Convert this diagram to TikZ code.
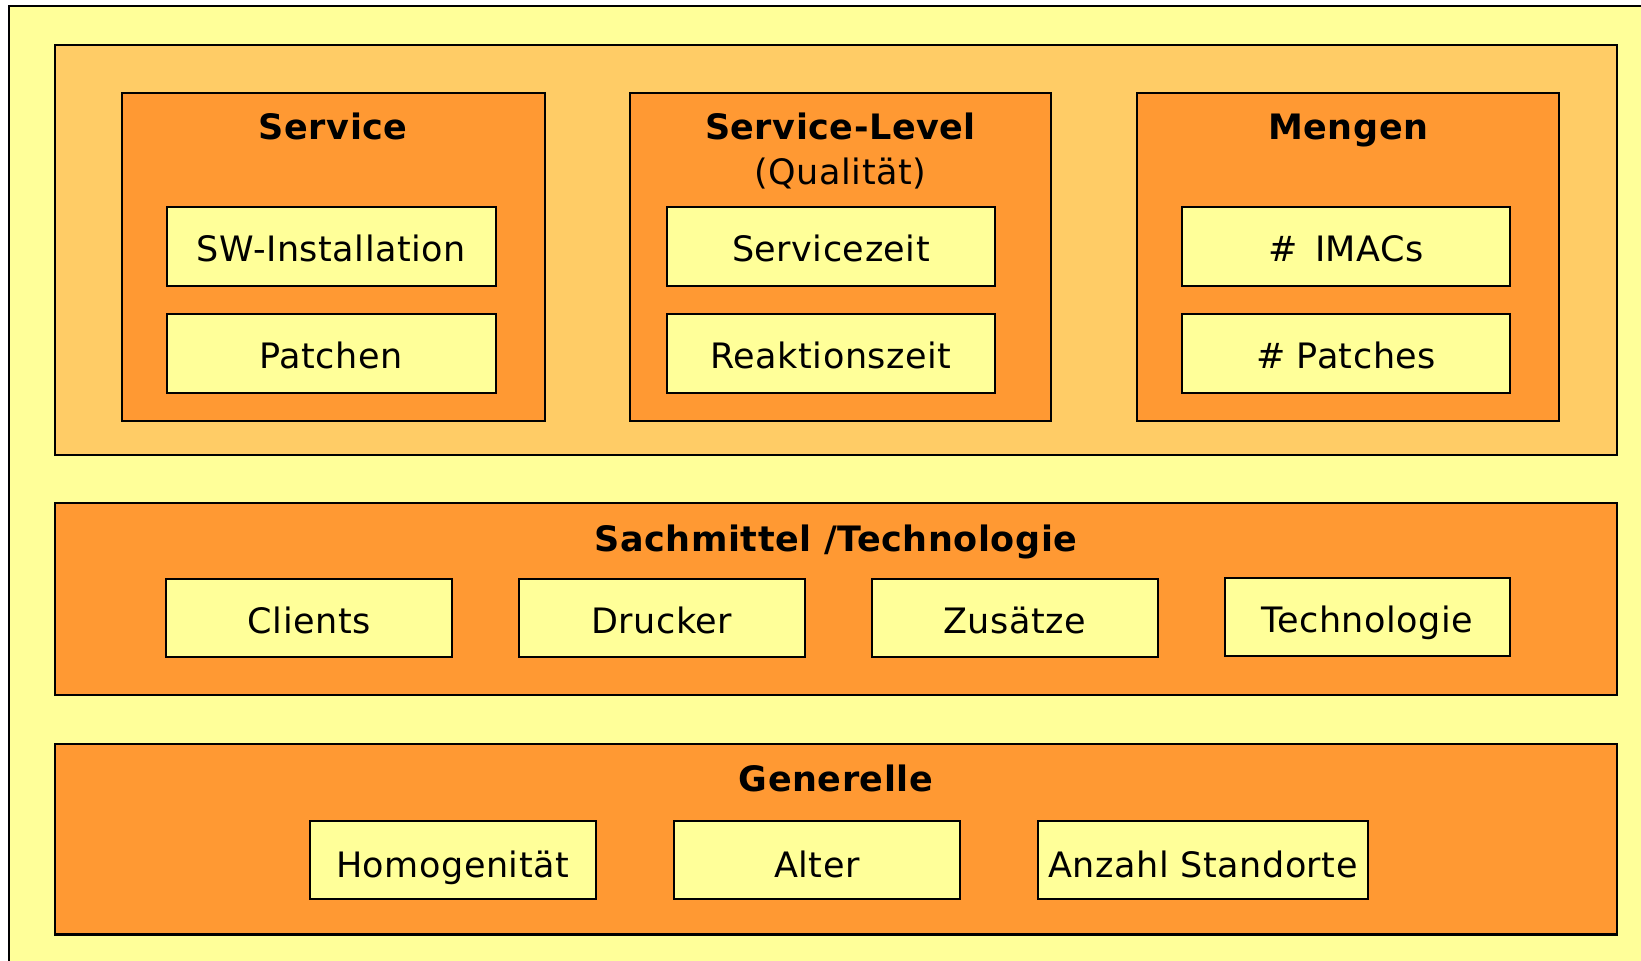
\documentclass[tikz,border=0pt]{standalone}
\usepackage{fontspec}
\setmainfont{DejaVu Sans}[LetterSpace=1.5]
\usetikzlibrary{fit}
\definecolor{lightyel}{HTML}{FFFF99}
\definecolor{lightora}{HTML}{FFCC66}
\definecolor{ora}{HTML}{FF9933}
\tikzset{
  panel/.style={draw=black, line width=1pt, inner sep=0pt, outer sep=0pt},
  itembox/.style={draw=black, line width=1pt, fill=lightyel, inner sep=0pt, outer sep=0pt},
  itemtext/.style={anchor=base, inner sep=0pt, yshift=-7.6pt, font=\fontsize{17.5pt}{21pt}\selectfont},
  ttl/.style={anchor=base, inner sep=0pt, font=\fontsize{17.5pt}{21pt}\selectfont\bfseries},
  sub/.style={anchor=base, inner sep=0pt, font=\fontsize{17.5pt}{21pt}\selectfont}
}
\begin{document}
\begin{tikzpicture}[x=0.5pt,y=-0.5pt]
\useasboundingbox (0,0) rectangle (1641,960);
\clip (0,0) rectangle (1641,960);
\fill[white] (0,0) rectangle (1641,960);
% outer frame
\node[panel, fill=lightyel, line width=1.2pt, fit={(9,6) (1660,980)}] (outer) {};
% top panel
\node[panel, fill=lightora, fit={(55,45) (1617,455)}] (top) {};
\node[panel, fill=ora, fit={(122,92.7) (544.7,421.3)}] (service) {};
\node[panel, fill=ora, fit={(630,92.7) (1051,421.3)}] (level) {};
\node[panel, fill=ora, fit={(1137.3,92.7) (1559.3,421.3)}] (mengen) {};
\node[ttl] (serviceT) at (333.3,139.5) {Service};
\node[ttl] (levelT) at (840.5,139.5) {Service-Level};
\node[sub] (levelQ) at (840.5,184.5) {(Qualität)};
\node[ttl] (mengenT) at (1348.3,139.5) {Mengen};
\node[itembox, fit={(166.7,206.7) (495.7,285.7)}] (sw) {};
\node[itembox, fit={(166.7,314) (495.7,392.7)}] (patchen) {};
\node[itembox, fit={(666.7,206.7) (995.3,285.7)}] (szeit) {};
\node[itembox, fit={(666.7,314) (995.3,392.7)}] (rzeit) {};
\node[itembox, fit={(1181.7,206.7) (1510.3,285.7)}] (imacs) {};
\node[itembox, fit={(1181.7,314) (1510.3,392.7)}] (patches) {};
\node[itemtext] (swT) at (sw.center) {SW-Installation};
\node[itemtext] (patchenT) at (patchen.center) {Patchen};
\node[itemtext] (szeitT) at (szeit.center) {Servicezeit};
\node[itemtext] (rzeitT) at (rzeit.center) {Reaktionszeit};
\node[itemtext] (imacsT) at (imacs.center) {\# \,IMACs};
\node[itemtext] (patchesT) at (patches.center) {\# Patches};
% middle panel
\node[panel, fill=ora, fit={(55,503.4) (1617,694.9)}] (mid) {};
\node[ttl] (midT) at (836,551) {Sachmittel /Technologie};
\node[itembox, fit={(166.4,578.8) (452.1,657.3)}] (clients) {};
\node[itembox, fit={(519.1,578.8) (804.8,657.3)}] (drucker) {};
\node[itembox, fit={(871.8,578.8) (1157.5,657.3)}] (zusaetze) {};
\node[itembox, fit={(1224.5,577.7) (1510.2,656.2)}] (techno) {};
\node[itemtext] (clientsT) at (clients.center) {Clients};
\node[itemtext] (druckerT) at (drucker.center) {Drucker};
\node[itemtext] (zusaetzeT) at (zusaetze.center) {Zusätze};
\node[itemtext] (technoT) at (techno.center) {Technologie};
% bottom panel
\node[panel, fill=ora, line width=1.3pt, fit={(55,744.1) (1617,934.6)}] (bot) {};
\node[ttl] (botT) at (836,791) {Generelle};
\node[itembox, fit={(309.8,820.5) (595.5,899)}] (homo) {};
\node[itembox, fit={(674,820.5) (959.7,899)}] (alter) {};
\node[itembox, fit={(1038.2,820.5) (1367.9,899)}] (anzahl) {};
\node[itemtext, yshift=-1.5pt] (homoT) at (homo.center) {Homogenität};
\node[itemtext, yshift=-1.5pt] (alterT) at (alter.center) {Alter};
\node[itemtext, yshift=-1.5pt] (anzahlT) at (anzahl.center) {Anzahl Standorte};
\end{tikzpicture}
\end{document}
